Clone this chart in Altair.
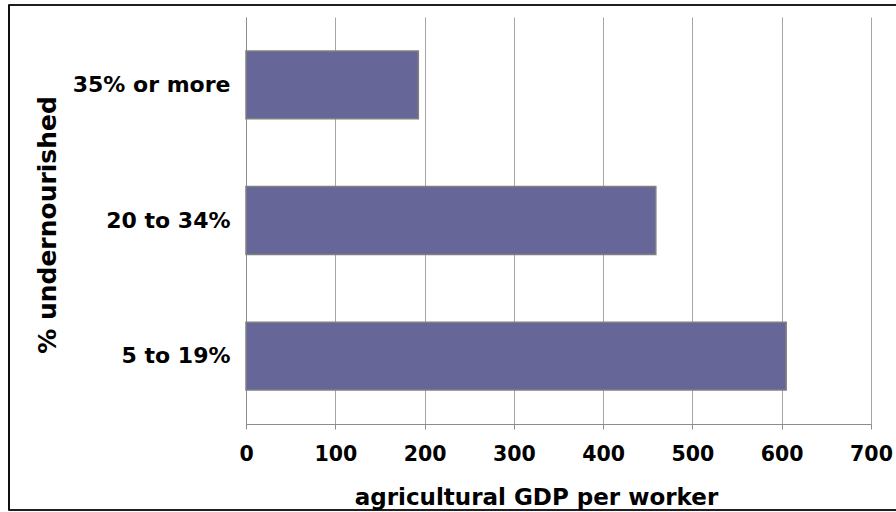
import altair as alt
import pandas as pd

# Share of the population undernourished, and agricultural GDP per worker
categories = ["35% or more", "20 to 34%", "5 to 19%"]
gdp_per_worker = [193, 459, 605]

df = pd.DataFrame({"group": categories, "gdp": gdp_per_worker})

FONT = "DejaVu Sans"
PLOT_W, PLOT_H = 625, 407
PAD_L, PAD_T = 246, 17

bars = alt.Chart(df).mark_bar(
    color="#666699", stroke="#808080", strokeWidth=1.5
).encode(
    x=alt.X(
        "gdp:Q",
        scale=alt.Scale(domain=[0, 700], nice=False),
        axis=alt.Axis(
            values=[0, 100, 200, 300, 400, 500, 600, 700],
            title="agricultural GDP per worker",
            titleFont=FONT, titleFontSize=23, titleFontWeight="bold",
            titleColor="#000000", titleX=290, titleY=80,
            titleAlign="center", titleBaseline="alphabetic",
            labelFont=FONT, labelFontSize=20.5, labelFontWeight="bold",
            labelColor="#000000", labelPadding=15, labelFlush=False,
            tickSize=5, tickColor="#8c8c8c", domainColor="#8c8c8c",
            grid=True, gridColor="#a6a6a6", gridWidth=1,
        ),
    ),
    y=alt.Y(
        "group:N",
        sort=categories,
        scale=alt.Scale(paddingInner=0.5, paddingOuter=0.25),
        axis=alt.Axis(
            title="% undernourished",
            titleFont=FONT, titleFontSize=25, titleFontWeight="bold",
            titleColor="#000000", titleAngle=270,
            titleX=-191, titleY=PLOT_H / 2 + 4,
            titleAlign="center", titleBaseline="alphabetic",
            labelFont=FONT, labelFontSize=22, labelFontWeight="bold",
            labelColor="#000000", labelPadding=16,
            ticks=False, domainColor="#8c8c8c", grid=False,
        ),
    ),
)

# Thin outer frame around the whole chart
frame = alt.Chart(df).mark_rect(
    fill=None, stroke="#000000", strokeWidth=1.2
).encode(
    x=alt.value(9 - PAD_L),
    x2=alt.value(900 - PAD_L),
    y=alt.value(5 - PAD_T),
    y2=alt.value(510 - PAD_T),
)

chart = alt.layer(frame, bars).properties(
    width=PLOT_W,
    height=PLOT_H,
    autosize=alt.AutoSizeParams(type="none"),
    padding={"left": PAD_L, "top": PAD_T, "right": 896 - PAD_L - PLOT_W,
             "bottom": 512 - PAD_T - PLOT_H},
    background="#ffffff",
).configure_view(stroke=None)

chart.save("out.html", embed_options={"renderer": "svg", "actions": False})
